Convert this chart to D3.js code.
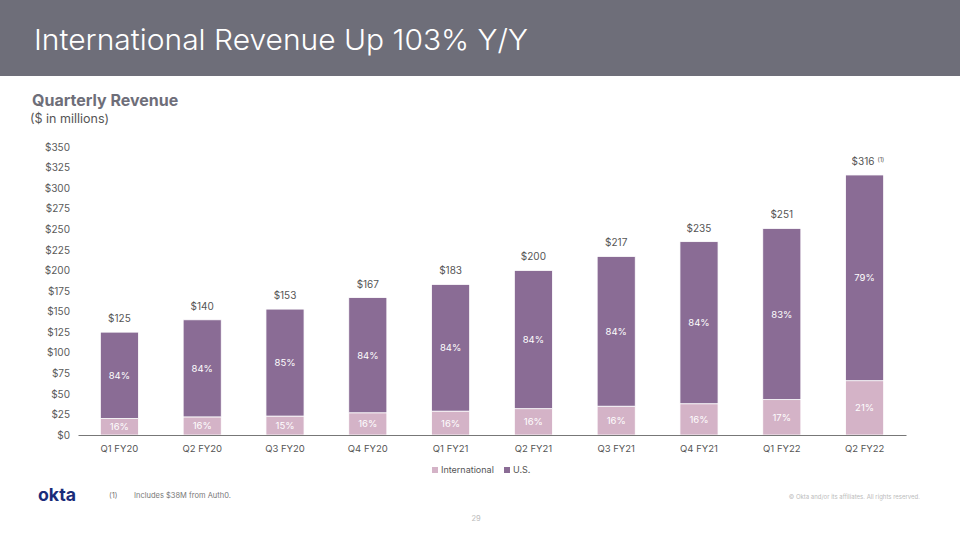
<!DOCTYPE html>
<html><head><meta charset="utf-8">
<script src="https://cdn.jsdelivr.net/npm/d3@7"></script>
<style>html,body{margin:0;padding:0;background:#fff}svg{display:block;font-family:Inter,"Liberation Sans",sans-serif}</style>
</head><body>
<script>
const categories = ["Q1 FY20","Q2 FY20","Q3 FY20","Q4 FY20","Q1 FY21","Q2 FY21","Q3 FY21","Q4 FY21","Q1 FY22","Q2 FY22"];
const international = [20, 22, 23, 27, 29, 32, 35, 38, 43, 66];
const us = [105, 118, 130, 140, 154, 168, 182, 197, 208, 250];
const totalLabels = ["$125","$140","$153","$167","$183","$200","$217","$235","$251","$316"];
const intlPct = ["16%","16%","15%","16%","16%","16%","16%","16%","17%","21%"];
const usPct = ["84%","84%","85%","84%","84%","84%","84%","84%","83%","79%"];
const yTicks = [0,25,50,75,100,125,150,175,200,225,250,275,300,325,350];
const seriesNames = ["International","U.S."];

const W=960,H=540;
const colors = {intl:"#d4b3c7", us:"#8a6c95"};
const svg = d3.select("body").append("svg").attr("width",W).attr("height",H);

// header
svg.append("rect").attr("x",0).attr("y",0).attr("width",W).attr("height",76).attr("fill","#6e6e79");
svg.append("text").attr("x",34).attr("y",50).attr("fill","#fff").attr("font-size",29).attr("font-weight",300)
  .attr("textLength",494).attr("lengthAdjust","spacingAndGlyphs")
  .text("International Revenue Up 103% Y/Y");
svg.append("text").attr("x",32).attr("y",106).attr("fill","#6e6e79").attr("font-size",16).attr("font-weight",700)
  .text("Quarterly Revenue");
svg.append("text").attr("x",30).attr("y",123).attr("fill","#555").attr("font-size",12.5)
  .text("($ in millions)");

const x = d3.scaleBand().domain(categories).range([78,906]).paddingInner(0.54).paddingOuter(0.27);
const y = d3.scaleLinear().domain([0,350]).range([435,147]);

// y axis labels
const ya = svg.append("g").attr("transform","translate(70,0)")
  .call(d3.axisLeft(y).tickValues(yTicks).tickSize(0).tickPadding(0).tickFormat(d=>"$"+d));
ya.select(".domain").remove();
ya.selectAll("text").attr("fill","#5a5a5a").attr("font-size",10).attr("font-family","Inter,'Liberation Sans',sans-serif");

// bars
const data = categories.map((c,i)=>({c, intl:international[i], us:us[i], i}));
const g = svg.append("g");
g.selectAll("rect.intl").data(data).join("rect").attr("class","intl")
  .attr("x",d=>x(d.c)).attr("width",x.bandwidth())
  .attr("y",d=>y(d.intl)).attr("height",d=>y(0)-y(d.intl))
  .attr("fill",colors.intl).attr("stroke","#fff").attr("stroke-width",0.8);
g.selectAll("rect.us").data(data).join("rect").attr("class","us")
  .attr("x",d=>x(d.c)).attr("width",x.bandwidth())
  .attr("y",d=>y(d.intl+d.us)).attr("height",d=>y(d.intl)-y(d.intl+d.us))
  .attr("fill",colors.us).attr("stroke","#fff").attr("stroke-width",0.8);

// segment labels
g.selectAll("text.ip").data(data).join("text").attr("class","ip")
  .attr("x",d=>x(d.c)+x.bandwidth()/2).attr("y",d=>(y(0)+y(d.intl))/2+3.5)
  .attr("text-anchor","middle").attr("fill","#fff").attr("font-size",9.5).text(d=>intlPct[d.i]);
g.selectAll("text.up").data(data).join("text").attr("class","up")
  .attr("x",d=>x(d.c)+x.bandwidth()/2).attr("y",d=>(y(d.intl)+y(d.intl+d.us))/2+3.5)
  .attr("text-anchor","middle").attr("fill","#fff").attr("font-size",9.5).text(d=>usPct[d.i]);
// totals
const tl = g.selectAll("text.tot").data(data).join("text").attr("class","tot")
  .attr("x",d=>x(d.c)+x.bandwidth()/2).attr("y",d=>y(d.intl+d.us)-10)
  .attr("text-anchor","middle").attr("fill","#555").attr("font-size",10);
tl.append("tspan").text(d=>totalLabels[d.i]);
tl.filter(d=>d.i===categories.length-1).attr("text-anchor","start")
  .attr("x",d=>x(d.c)+x.bandwidth()/2-13)
  .append("tspan").attr("dx",3).attr("dy",-3).attr("font-size",6).text("(1)");

// x axis
const xa = svg.append("g").attr("transform","translate(0,435)")
  .call(d3.axisBottom(x).tickSize(0).tickPadding(10));
xa.select(".domain").attr("stroke","#777").attr("stroke-width",1);
xa.selectAll("text").attr("fill","#555").attr("font-size",9.5).attr("font-family","Inter,'Liberation Sans',sans-serif");

// legend
const leg = svg.append("g").attr("transform","translate(432,473)");
const legColors=[colors.intl,colors.us];
const legX=[0,72];
seriesNames.forEach((n,i)=>{
  leg.append("rect").attr("x",legX[i]).attr("y",-6).attr("width",6).attr("height",6).attr("fill",legColors[i]);
  leg.append("text").attr("x",legX[i]+9).attr("y",0).attr("fill","#555").attr("font-size",9).text(n);
});

// footer
svg.append("text").attr("x",38).attr("y",501).attr("fill","#1a2c7a").attr("font-size",18).attr("font-weight",700)
  .attr("textLength",38).attr("lengthAdjust","spacingAndGlyphs").text("okta");
svg.append("text").attr("x",109).attr("y",498).attr("fill","#777").attr("font-size",7.5).text("(1)");
svg.append("text").attr("x",134).attr("y",498).attr("fill","#777").attr("font-size",7.5).text("Includes $38M from Auth0.");
svg.append("text").attr("x",920).attr("y",499).attr("text-anchor","end").attr("fill","#bbb").attr("font-size",6).text("© Okta and/or its affiliates. All rights reserved.");
svg.append("text").attr("x",476).attr("y",521).attr("text-anchor","middle").attr("fill","#bbb").attr("font-size",7.5).text("29");
</script>
</body></html>
